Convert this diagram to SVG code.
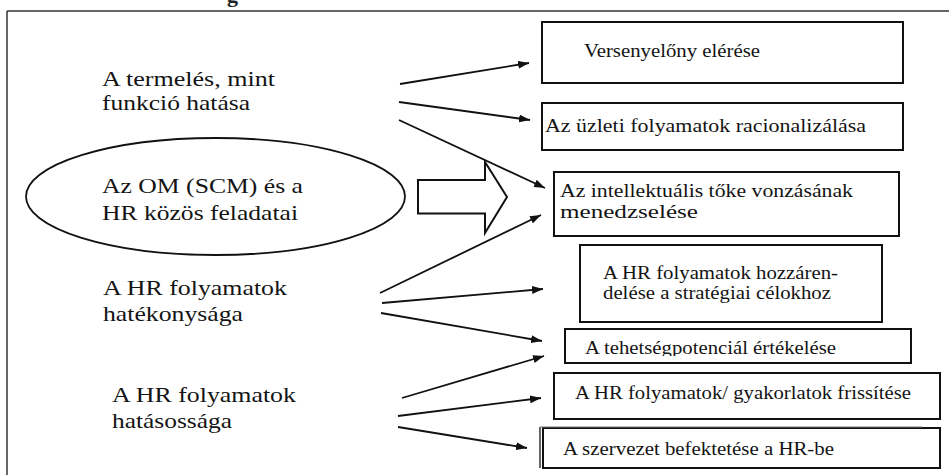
<svg xmlns="http://www.w3.org/2000/svg" width="949" height="475" viewBox="0 0 949 475">
<style>
.lt{font-size:22px;fill:#141414}
.bt{font-size:18px;fill:#141414}
.box{fill:#fff;stroke:#111;stroke-width:2}
.con{stroke:#111;stroke-width:1.8;fill:none;marker-end:url(#ah)}
</style>
<defs>
<marker id="ah" markerUnits="userSpaceOnUse" markerWidth="11" markerHeight="8" refX="11" refY="4" orient="auto">
<path d="M0,0 L11,4 L0,8 z" fill="#111"/>
</marker>
<clipPath id="c5"><rect x="560" y="325" width="360" height="31"/></clipPath>
</defs>
<rect width="949" height="475" fill="#fff"/>
<g font-family="'Liberation Serif', 'Times New Roman', serif">
<text x="227" y="2" font-size="22" font-weight="bold" fill="#222">g</text>
<g id="frame">
<line x1="7" y1="11" x2="949" y2="11" stroke="#666" stroke-width="2"/>
<line x1="7" y1="11" x2="7" y2="475" stroke="#333" stroke-width="1.5"/>
</g>
<g id="n_termeles">
<text class="lt" x="102" y="86" textLength="173" lengthAdjust="spacingAndGlyphs">A termelés, mint</text>
<text class="lt" x="102" y="110" textLength="148" lengthAdjust="spacingAndGlyphs">funkció hatása</text>
</g>
<g id="n_kozos">
<ellipse cx="215.5" cy="196.5" rx="189.5" ry="58.5" fill="#fff" stroke="#111" stroke-width="1.8"/>
<text class="lt" x="102" y="193" textLength="201" lengthAdjust="spacingAndGlyphs">Az OM (SCM) és a</text>
<text class="lt" x="102" y="220" textLength="196" lengthAdjust="spacingAndGlyphs">HR közös feladatai</text>
</g>
<g id="n_blockarrow">
<polygon points="418,180 485,180 485,162 507,197 485,233 485,213.5 418,213.5" fill="#fff" stroke="#111" stroke-width="2" stroke-linejoin="miter"/>
</g>
<g id="n_hatekonysag">
<text class="lt" x="103" y="295" textLength="184" lengthAdjust="spacingAndGlyphs">A HR folyamatok</text>
<text class="lt" x="103" y="321" textLength="140" lengthAdjust="spacingAndGlyphs">hatékonysága</text>
</g>
<g id="n_hatasossag">
<text class="lt" x="112" y="402" textLength="184" lengthAdjust="spacingAndGlyphs">A HR folyamatok</text>
<text class="lt" x="112" y="428" textLength="120" lengthAdjust="spacingAndGlyphs">hatásossága</text>
</g>
<g id="b1">
<rect class="box" x="542" y="22" width="361" height="61"/>
<text class="bt" x="584" y="57" textLength="176" lengthAdjust="spacingAndGlyphs">Versenyelőny elérése</text>
</g>
<g id="b2">
<rect class="box" x="542" y="103" width="361" height="47"/>
<text class="bt" x="545" y="132" textLength="321" lengthAdjust="spacingAndGlyphs">Az üzleti folyamatok racionalizálása</text>
</g>
<g id="b3">
<rect class="box" x="554" y="172" width="345" height="64"/>
<text class="bt" x="560" y="197" textLength="293" lengthAdjust="spacingAndGlyphs">Az intellektuális tőke vonzásának</text>
<text class="bt" x="560" y="218" textLength="138" lengthAdjust="spacingAndGlyphs">menedzselése</text>
</g>
<g id="b4">
<rect class="box" x="580" y="245" width="302" height="77"/>
<text class="bt" x="603" y="279" textLength="235" lengthAdjust="spacingAndGlyphs">A HR folyamatok hozzáren-</text>
<text class="bt" x="603" y="299" textLength="228" lengthAdjust="spacingAndGlyphs">delése a stratégiai célokhoz</text>
</g>
<g id="b5">
<rect class="box" x="565" y="329" width="346" height="34"/>
<text class="bt" x="585" y="354" textLength="251" lengthAdjust="spacingAndGlyphs" clip-path="url(#c5)">A tehetségpotenciál értékelése</text>
</g>
<g id="b6">
<rect class="box" x="554" y="373" width="386" height="46"/>
<text class="bt" x="575" y="399" textLength="336" lengthAdjust="spacingAndGlyphs">A HR folyamatok/ gyakorlatok frissítése</text>
</g>
<g id="b7">
<rect class="box" x="543" y="428" width="397" height="40"/>
<line x1="540" y1="427" x2="540" y2="468" stroke="#333" stroke-width="1.5"/>
<line x1="540" y1="427" x2="922" y2="427" stroke="#777" stroke-width="1"/>
<text class="bt" x="563" y="455" textLength="271" lengthAdjust="spacingAndGlyphs">A szervezet befektetése a HR-be</text>
</g>
<g id="connectors">
<line class="con" x1="400" y1="84" x2="529" y2="63"/>
<line class="con" x1="399" y1="102" x2="530" y2="120"/>
<line class="con" x1="399" y1="120" x2="545" y2="188"/>
<line class="con" x1="380" y1="293" x2="541" y2="215"/>
<line class="con" x1="382" y1="303" x2="543" y2="289"/>
<line class="con" x1="381" y1="313" x2="542" y2="341"/>
<line class="con" x1="402" y1="398" x2="544" y2="356"/>
<line class="con" x1="398" y1="416" x2="541" y2="398"/>
<line class="con" x1="398" y1="427" x2="527" y2="448"/>
</g>
</g>
</svg>
